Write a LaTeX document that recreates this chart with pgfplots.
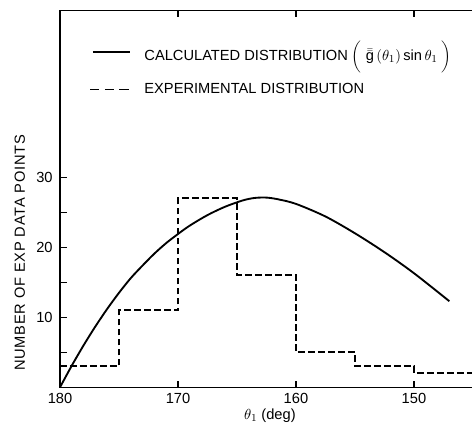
\documentclass[border=0pt]{standalone}
\usepackage{pgfplots}
\pgfplotsset{compat=1.18}
\usepackage{pgfplotstable}
\usepackage{fontspec}
\setmainfont{Liberation Sans}

\pgfplotstableread{
theta  n
180    0
179    3.1
178    6.0
177    8.7
176    11.2
175    13.5
174    15.6
173    17.4
172    19.1
171    20.6
170    21.9
169    23.1
167.5  24.6
166    25.8
164.5  26.7
163.5  27.05
162.5  27.1
161.5  26.85
160    26.2
157.5  24.4
155    22.0
152.5  19.3
150    16.3
147    12.3
}\calcdata

\pgfplotstableread{
theta  n
180    3
175    11
170    27
165    16
160    5
155    3
150    2
144    2
}\expdata

\begin{document}
\begin{tikzpicture}
\useasboundingbox (-45pt,-29.8pt) rectangle (309pt,290.5pt);
\begin{axis}[
    scale only axis,
    width=313pt, height=282.5pt,
    x dir=reverse,
    xmin=144.63, xmax=180,
    ymin=0, ymax=53.8,
    axis line style={line width=1.1pt},
    tick align=inside,
    major tick length=5pt,
    tick style={line width=1pt, black},
    xtick={180,170,160,150},
    xticklabels={180,170,160,150},
    ytick={5,10,15,20,25,30},
    yticklabels={,10,,20,,30},
    ytick pos=left,
    xtick pos=both,
    font=\fontsize{11}{13}\selectfont,
    yticklabel style={xshift=-2pt},
    xticklabel style={yshift=-1pt},
    xlabel={$\theta_{1}$ (deg)},
    xlabel style={at={(axis description cs:0.503,-0.076)}, anchor=center},
    ylabel={\addfontfeatures{LetterSpace=5}NUMBER OF EXP DATA POINTS},
    ylabel style={at={(axis description cs:-0.096,0.357)}, anchor=center},
    legend cell align=left,
    legend style={
        at={(axis description cs:0.06,0.847)}, anchor=west,
        draw=none, fill=none,
        row sep=11.5pt,
        font=\fontsize{11}{13}\selectfont,
    },
    legend image code/.code={
        \draw[#1] (0pt,0pt) -- (28pt,0pt);
        \path (36pt,0pt);
    },
]
\addplot[black, line width=1.4pt, smooth, tension=0.5]
    table[x=theta, y=n] {\calcdata};
\addlegendentry{CALCULATED DISTRIBUTION $\biggl(\;\bar{\bar{\mbox{g}}}\,(\theta_{1})\,$sin\,$\theta_{1}\;\biggr)$}
\addplot[black, line width=1.3pt, const plot, dash pattern=on 5pt off 2.5pt,
    legend image code/.code={
        \draw[black, line width=1.3pt, dash pattern=on 7pt off 4pt] (-2pt,0pt) -- (28pt,0pt);
        \path (36pt,0pt);
    }]
    table[x=theta, y=n] {\expdata};
\addlegendentry{EXPERIMENTAL DISTRIBUTION}
\end{axis}
\end{tikzpicture}
\end{document}
